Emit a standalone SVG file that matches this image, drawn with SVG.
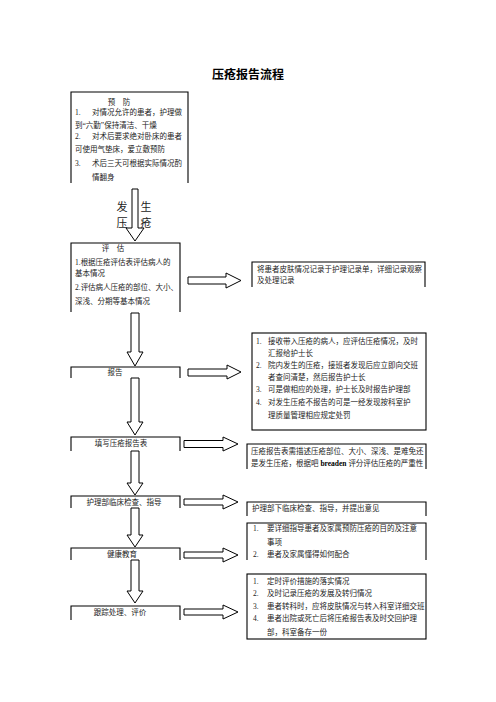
<svg xmlns="http://www.w3.org/2000/svg" width="496" height="702" viewBox="0 0 496 702">
<style>
.bx{fill:none;stroke:#000;stroke-width:1.1}
.ar{fill:#fff;stroke:#000;stroke-width:1}
text{font-family:"Liberation Serif","Noto Sans CJK SC",serif;font-size:7.5px;fill:#222}
.t{font-family:"Noto Sans CJK SC",sans-serif;font-size:12px;font-weight:bold;fill:#000}
.big{font-size:11px}
.b{font-weight:bold;fill:#000}
</style>
<rect width="496" height="702" fill="#fff"/>
<text class="t" x="248" y="79" text-anchor="middle">压疮报告流程</text>

<g id="prevent">
<path class="bx" d="M71,183 V92 H188 V183"/>
<text x="119" y="104.5" text-anchor="middle">预　防</text>
<text x="75" y="114.5">1.</text><text x="92" y="114.5">对情况允许的患者，护理做</text>
<text x="75" y="127.5">到“六勤”保持清洁、干燥</text>
<text x="75" y="139">2.</text><text x="92" y="139">对术后要求绝对卧床的患者</text>
<text x="75" y="152">可使用气垫床，爱立敷预防</text>
<text x="75" y="165.5">3.</text><text x="92" y="165.5">术后三天可根据实际情况酌</text>
<text x="92" y="179.5">情翻身</text>
</g>

<g id="occur">
<text class="big" x="122" y="211" text-anchor="middle">发</text>
<text class="big" x="146" y="211" text-anchor="middle">生</text>
<text class="big" x="122" y="227" text-anchor="middle">压</text>
<text class="big" x="146" y="227" text-anchor="middle">疮</text>
</g>

<g id="assess">
<path class="bx" d="M71,312 V243 H180 V312"/>
<text x="113" y="250.5" text-anchor="middle">评　估</text>
<text x="75" y="264.5">1.根据压疮评估表评估病人的</text>
<text x="75" y="275.5">基本情况</text>
<text x="75" y="289.5">2.评估病人压疮的部位、大小、</text>
<text x="75" y="303.5">深浅、分期等基本情况</text>
</g>

<g id="assess-note">
<path class="bx" d="M252,287 V262 H425 V287"/>
<text x="257" y="271.5">将患者皮肤情况记录于护理记录单，详细记录观察</text>
<text x="257" y="282.5">及处理记录</text>
</g>

<g id="report">
<path class="bx" d="M71,378 V367 H180 V378"/>
<text x="115" y="374.5" text-anchor="middle">报告</text>
</g>

<g id="report-note">
<rect class="bx" x="252" y="333" width="174" height="97"/>
<text x="256" y="343.5">1.</text><text x="268" y="343.5">接收带入压疮的病人，应评估压疮情况，及时</text>
<text x="268" y="355.5">汇报给护士长</text>
<text x="256" y="367.5">2.</text><text x="268" y="367.5">院内发生的压疮，接班者发现后应立即向交班</text>
<text x="268" y="379.5">者查问清楚，然后报告护士长</text>
<text x="256" y="392">3.</text><text x="268" y="392">可是做相应的处理，护士长及时报告护理部</text>
<text x="256" y="405">4.</text><text x="268" y="405">对发生压疮不报告的可是一经发现按科室护</text>
<text x="268" y="418">理质量管理相应规定处罚</text>
</g>

<g id="fill-form">
<path class="bx" d="M71,451 V437 H180 V451"/>
<text x="121" y="445.5" text-anchor="middle">填写压疮报告表</text>
</g>

<g id="fill-note">
<path class="bx" d="M247,469 V444 H426 V469"/>
<text x="251" y="453.5">压疮报告表需描述压疮部位、大小、深浅、是难免还</text>
<text x="251" y="465.5">是发生压疮，根据吧 <tspan class="b">breaden</tspan> 评分评估压疮的严重性</text>
</g>

<g id="inspect">
<path class="bx" d="M71,508 V496 H180 V508"/>
<text x="124" y="504.5" text-anchor="middle">护理部临床检查、指导</text>
</g>

<g id="inspect-note">
<path class="bx" d="M247,516 V502 H426 V516"/>
<text x="252" y="510.5">护理部下临床检查、指导，并提出意见</text>
</g>

<g id="education">
<path class="bx" d="M71,560 V548 H180 V560"/>
<text x="122" y="556.5" text-anchor="middle">健康教育</text>
</g>

<g id="education-note">
<path class="bx" d="M247,560 V523 H426 V560"/>
<text x="253" y="530.5">1.</text><text x="267" y="530.5">要详细指导患者及家属预防压疮的目的及注意</text>
<text x="267" y="544.5">事项</text>
<text x="253" y="556.5">2.</text><text x="267" y="556.5">患者及家属懂得如何配合</text>
</g>

<g id="follow">
<path class="bx" d="M71,620 V606 H180 V620"/>
<text x="120" y="614.5" text-anchor="middle">跟踪处理、评价</text>
</g>

<g id="follow-note">
<rect class="bx" x="247" y="574" width="179" height="65"/>
<text x="253" y="583.5">1.</text><text x="267" y="583.5">定时评价措施的落实情况</text>
<text x="253" y="595.5">2.</text><text x="267" y="595.5">及时记录压疮的发展及转归情况</text>
<text x="253" y="608.5">3.</text><text x="267" y="608.5">患者转科时，应将皮肤情况与转入科室详细交班</text>
<text x="253" y="620.5">4.</text><text x="267" y="620.5">患者出院或死亡后将压疮报告表及时交回护理</text>
<text x="267" y="634.5">部，科室备存一份</text>
</g>

<g id="connectors">
<path class="ar" d="M132,189 H138 V228 H144 L135,241 L126,228 H132 Z"/>
<path class="ar" d="M131,313 H139 V352 H143 L135,366 L127,352 H131 Z"/>
<path class="ar" d="M131,378 H139 V422 H143 L135,435 L127,422 H131 Z"/>
<path class="ar" d="M131,451 H139 V483 H143 L135,495 L127,483 H131 Z"/>
<path class="ar" d="M131,508 H139 V535 H143 L135,547 L127,535 H131 Z"/>
<path class="ar" d="M131,560 H139 V591 H143 L135,603 L127,591 H131 Z"/>
<path class="ar" d="M188,277 H226 V273 L241,280.5 L226,288 V284 H188 Z"/>
<path class="ar" d="M188,369 H227 V365 L241,372 L227,379 V376 H188 Z"/>
<path class="ar" d="M184,440.5 H223 V437 L238,444 L223,451 V447.5 H184 Z"/>
<path class="ar" d="M184,499 H223 V495 L238,502 L223,509 V505 H184 Z"/>
<path class="ar" d="M184,552 H223 V548 L238,555 L223,562 V558 H184 Z"/>
<path class="ar" d="M184,609 H223 V605 L238,612 L223,619 V615 H184 Z"/>
</g>
</svg>
